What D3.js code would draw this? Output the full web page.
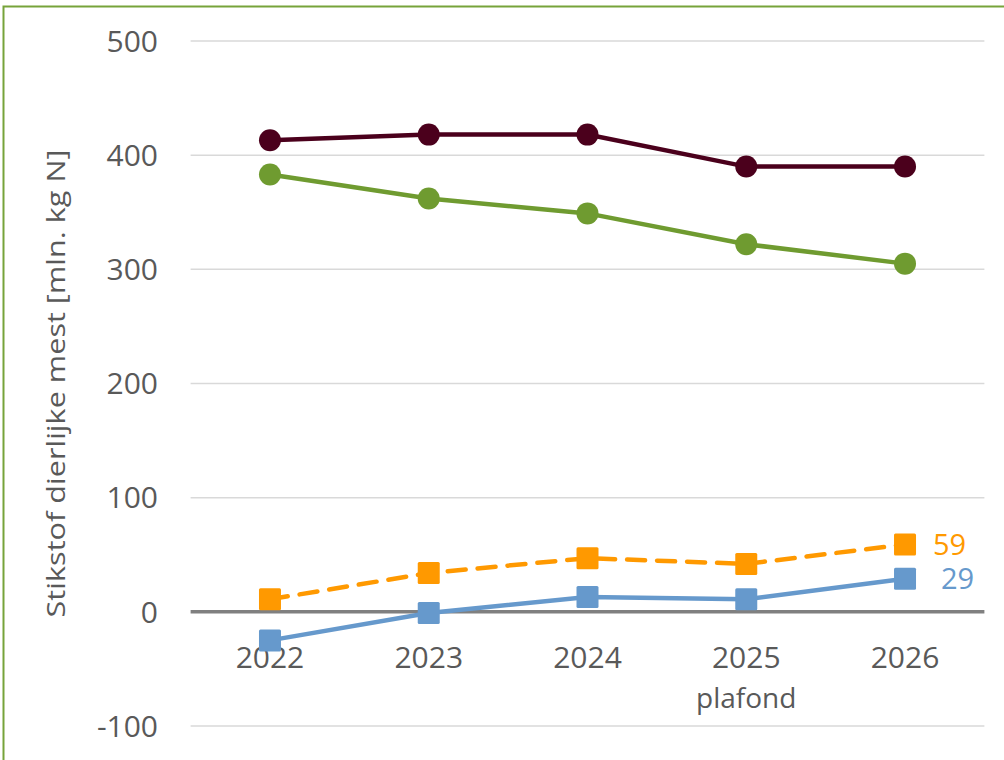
<!DOCTYPE html>
<html><head><meta charset="utf-8">
<script src="https://cdn.jsdelivr.net/npm/d3@7"></script>
<style>html,body{margin:0;padding:0;background:#fff;}svg{display:block;}</style>
</head><body>
<script>
const categories = ["2022","2023","2024","2025","2026"];
const categoryLabels = [["2022"],["2023"],["2024"],["2025","plafond"],["2026"]];
const seriesDarkRed = [413, 418, 418, 390, 390];
const seriesGreen = [383, 362, 349, 322, 305];
const seriesOrange = [11, 34, 47, 42, 59];
const seriesBlue = [-25, -1, 13, 11, 29];
const yTicks = [-100, 0, 100, 200, 300, 400, 500];
const yTitle = "Stikstof dierlijke mest [mln. kg N]";

const W = 1004, H = 760;
const svg = d3.select("body").append("svg").attr("width", W).attr("height", H);
const font = "'Open Sans', 'Noto Sans', sans-serif";

svg.append("rect").attr("x", 3.5).attr("y", 6.5).attr("width", 1100).attr("height", 900)
  .attr("fill", "#fff").attr("stroke", "#77a33a").attr("stroke-width", 2);

const x = d3.scaleBand().domain(categories).range([190.6, 984.4]);
const y = d3.scaleLinear().domain([-100, 500]).range([726, 41]);
const cx = d => x(d) + x.bandwidth() / 2;

// gridlines
svg.append("g").selectAll("line").data(yTicks.filter(t => t !== 0)).join("line")
  .attr("x1", 190.6).attr("x2", 984.4).attr("y1", d => y(d)).attr("y2", d => y(d))
  .attr("stroke", "#d9d9d9").attr("stroke-width", 1.5);

// y tick labels
svg.append("g").selectAll("text").data(yTicks).join("text")
  .attr("x", 158).attr("y", d => y(d)).attr("dy", "0.36em")
  .attr("text-anchor", "end").attr("font-family", font).attr("font-size", 30)
  .attr("fill", "#595959").text(d => d);

// y title
svg.append("text").attr("transform", `translate(65,${y(200)}) rotate(-90)`)
  .attr("text-anchor", "middle").attr("font-family", font).attr("font-size", 26)
  .attr("textLength", 468).attr("lengthAdjust", "spacingAndGlyphs")
  .attr("fill", "#595959").text(yTitle);

// zero line
svg.append("line").attr("x1", 190.6).attr("x2", 984.4).attr("y1", y(0)).attr("y2", y(0))
  .attr("stroke", "#808080").attr("stroke-width", 3.5);

// x labels
const xl = svg.append("g").selectAll("text").data(categories).join("text")
  .attr("x", d => cx(d)).attr("y", 668).attr("text-anchor", "middle")
  .attr("font-family", font).attr("font-size", 30).attr("fill", "#595959");
xl.each(function(d, i) {
  const t = d3.select(this);
  categoryLabels[i].forEach((s, j) => {
    t.append("tspan").attr("x", cx(d)).attr("dy", j === 0 ? 0 : 40)
      .attr("font-size", j === 0 ? 30 : 28).text(s);
  });
});

const line = d3.line().x((d, i) => cx(categories[i])).y(d => y(d));

function drawSeries(vals, color, marker, dashed) {
  const g = svg.append("g");
  g.append("path").datum(vals).attr("d", line).attr("fill", "none")
    .attr("stroke", color).attr("stroke-width", 4.5)
    .attr("stroke-dasharray", dashed ? "18,12" : null).attr("stroke-linecap", dashed ? "round" : "butt");
  if (marker === "circle") {
    g.selectAll("circle").data(vals).join("circle")
      .attr("cx", (d, i) => cx(categories[i])).attr("cy", d => y(d)).attr("r", 11).attr("fill", color);
  } else {
    g.selectAll("rect").data(vals).join("rect")
      .attr("x", (d, i) => cx(categories[i]) - 11).attr("y", d => y(d) - 11)
      .attr("width", 22).attr("height", 22).attr("rx", 1.5).attr("fill", color);
  }
}
drawSeries(seriesDarkRed, "#4b001c", "circle", false);
drawSeries(seriesGreen, "#6f9b30", "circle", false);
drawSeries(seriesOrange, "#ff9900", "square", true);
drawSeries(seriesBlue, "#6699cc", "square", false);

// end labels
const last = categories.length - 1;
svg.append("text").attr("x", cx(categories[last]) + 28).attr("y", y(seriesOrange[last])).attr("dy", "0.36em")
  .attr("font-family", font).attr("font-size", 29).attr("fill", "#ff9900").text(seriesOrange[last]);
svg.append("text").attr("x", cx(categories[last]) + 36).attr("y", y(seriesBlue[last])).attr("dy", "0.36em")
  .attr("font-family", font).attr("font-size", 29).attr("fill", "#6699cc").text(seriesBlue[last]);
</script>
</body></html>
